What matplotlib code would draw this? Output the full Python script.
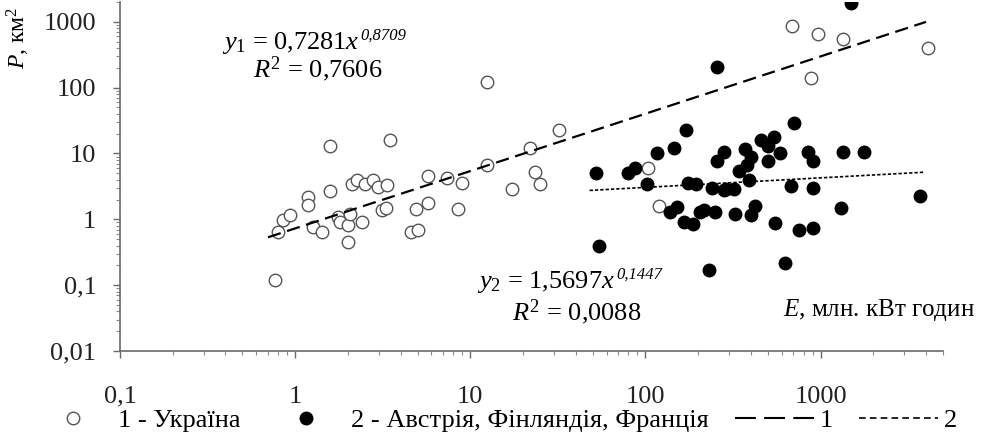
import matplotlib
matplotlib.use('Agg')
import matplotlib.pyplot as plt
from matplotlib.lines import Line2D
from matplotlib.ticker import LogLocator, FixedFormatter, FixedLocator, NullFormatter
import numpy as np

plt.rcParams['font.family'] = ['Liberation Serif', 'DejaVu Serif']
plt.rcParams['mathtext.fontset'] = 'custom'
plt.rcParams['mathtext.rm'] = 'Liberation Serif'
plt.rcParams['mathtext.it'] = 'Liberation Serif:italic'

# 1 - Ukraine (open circles)
ua_e = [0.77, 0.8, 0.85, 0.94, 1.19, 1.19, 1.27, 1.43, 1.58, 1.58, 1.76, 1.8,
        2.0, 2.06, 2.0, 2.1, 2.26, 2.4, 2.5, 2.8, 2.98, 3.14, 3.3, 3.35, 3.5,
        4.6, 5.0, 4.9, 5.7, 5.75, 7.4, 8.5, 9.0, 12.5, 12.5, 17.4, 22, 23.5,
        25, 32, 104, 120, 690, 880, 970, 1350, 4100]
ua_p = [0.12, 0.64, 0.97, 1.15, 2.15, 1.63, 0.76, 0.64, 13.2, 2.65, 1.07, 0.9,
        0.81, 1.19, 0.45, 3.4, 4.0, 0.9, 3.4, 4.0, 3.05, 1.37, 1.5, 3.3, 16,
        0.65, 0.7, 1.42, 4.6, 1.8, 4.3, 1.42, 3.6, 120, 6.6, 2.85, 12.3, 5.2,
        3.4, 23, 6.1, 1.6, 870, 140, 650, 550, 400]

# 2 - Austria, Finland, France (filled circles)
eu_e = [52, 79, 87, 117, 145, 170, 102, 175, 195, 240, 257, 705, 280, 257,
        372, 455, 540, 500, 590, 500, 400, 340, 380, 390, 320, 280, 850, 900,
        1350, 1780, 675, 910, 3700, 1300, 215, 250, 325, 400, 425, 550, 750,
        900, 630, 230, 152, 138, 165, 187, 205, 54, 1500, 287]
eu_p = [5.1, 5.1, 6.1, 10.3, 12.3, 23, 3.4, 3.6, 3.4, 3.0, 208, 29, 10.7, 7.6,
        11.5, 16, 18, 13, 10, 7.8, 8.7, 5.5, 6.6, 3.9, 2.9, 2.75, 10.7, 7.6,
        10.7, 10.7, 3.2, 2.95, 2.3, 1.47, 1.37, 1.28, 1.19, 1.15, 1.6, 0.87,
        0.68, 0.73, 0.22, 0.17, 1.52, 1.28, 0.9, 0.84, 1.28, 0.4, 1900, 2.85]

# power trends y = a * x^b
a1, b1 = 0.7281, 0.8709
a2, b2 = 1.5697, 0.1447
trend1_x = np.array([0.7, 4000])
trend2_x = np.array([48, 3900])

ticks = [0.01, 0.1, 1, 10, 100, 1000]
tick_labels = ['0,01', '0,1', '1', '10', '100', '1000']

fig = plt.figure(figsize=(9.87, 4.41), dpi=100)
ax = fig.add_axes([120 / 987, 1 - 351 / 441, (943 - 120) / 987, (351 - 2) / 441])
ax.set_xscale('log')
ax.set_yscale('log')
ax.set_xlim(0.1, 5000)
ax.set_ylim(0.01, 2000)

ax.plot(ua_e, ua_p, 'o', ms=9, mfc='white', mec='#555555', mew=1.0, ls='none', zorder=3)
ax.plot(eu_e, eu_p, 'o', ms=9, mfc='black', mec='black', ls='none', zorder=4)
ax.plot(trend1_x, a1 * trend1_x ** b1, color='black', lw=1.6, dashes=(6, 3), zorder=5)
ax.plot(trend2_x, a2 * trend2_x ** b2, color='black', lw=1.2, dashes=(2, 1.2), zorder=5)

for s in ['top', 'right']:
    ax.spines[s].set_visible(False)
for s in ['left', 'bottom']:
    ax.spines[s].set_color('#6a6a6a')
    ax.spines[s].set_linewidth(1.2)

ax.xaxis.set_major_locator(FixedLocator(ticks[1:]))
ax.xaxis.set_major_formatter(FixedFormatter(tick_labels[1:]))
ax.yaxis.set_major_locator(FixedLocator(ticks))
ax.yaxis.set_major_formatter(FixedFormatter(tick_labels))
for axis in (ax.xaxis, ax.yaxis):
    axis.set_minor_locator(LogLocator(base=10, subs=np.arange(2, 10)))
    axis.set_minor_formatter(NullFormatter())
ax.tick_params(which='major', direction='out', length=5, width=1, color='#6a6a6a',
               labelsize=19, labelcolor='#222222')
ax.tick_params(which='minor', direction='out', length=3, width=0.8, color='#8a8a8a')
ax.tick_params(axis='x', which='major', pad=20)
ax.tick_params(axis='y', which='major', pad=12)

# trend equations, exponent placed right after the main text
t1 = fig.text(222 / 987, 1 - 43 / 441, r'$y_1$ = 0,7281$x$', fontsize=19, ha='left', va='center')
ax.annotate('0,8709', xy=(1, 0.8), xycoords=t1, xytext=(1, 0), textcoords='offset points',
            fontsize=12, style='italic', ha='left', va='center')
fig.text(318 / 987, 1 - 69 / 441, r'$R^2$ = 0,7606', fontsize=19, ha='center', va='center')

t2 = fig.text(477 / 987, 1 - 282 / 441, r'$y_2$ = 1,5697$x$', fontsize=19, ha='left', va='center')
ax.annotate('0,1447', xy=(1, 0.8), xycoords=t2, xytext=(1, 0), textcoords='offset points',
            fontsize=12, style='italic', ha='left', va='center')
fig.text(577 / 987, 1 - 312 / 441, r'$R^2$ = 0,0088', fontsize=19, ha='center', va='center')

fig.text(975 / 987, 1 - 310 / 441, r'$E$, млн. кВт годин', fontsize=18,
         ha='right', va='center')
fig.text(18 / 987, 1 - 38 / 441, r'$P$, км$^2$', fontsize=17, rotation=90,
         ha='center', va='center')

handles = [
    Line2D([], [], marker='o', ls='none', ms=9, mfc='white', mec='#555555', mew=1.0),
    Line2D([], [], marker='o', ls='none', ms=9, mfc='black', mec='black'),
    Line2D([], [], color='black', lw=1.5, dashes=(10, 4)),
    Line2D([], [], color='black', lw=1.2, dashes=(4, 2.5)),
]
labels = ['1 - Україна', '2 - Австрія, Фінляндія, Франція', '1', '2']
fig.legend(handles, labels, loc='center', bbox_to_anchor=(495 / 987, 1 - 420 / 441),
           ncol=4, frameon=False, fontsize=19, handlelength=3.0, handletextpad=0.2,
           columnspacing=1.0, borderaxespad=0, borderpad=0)

fig.savefig('out.png', dpi=100)
